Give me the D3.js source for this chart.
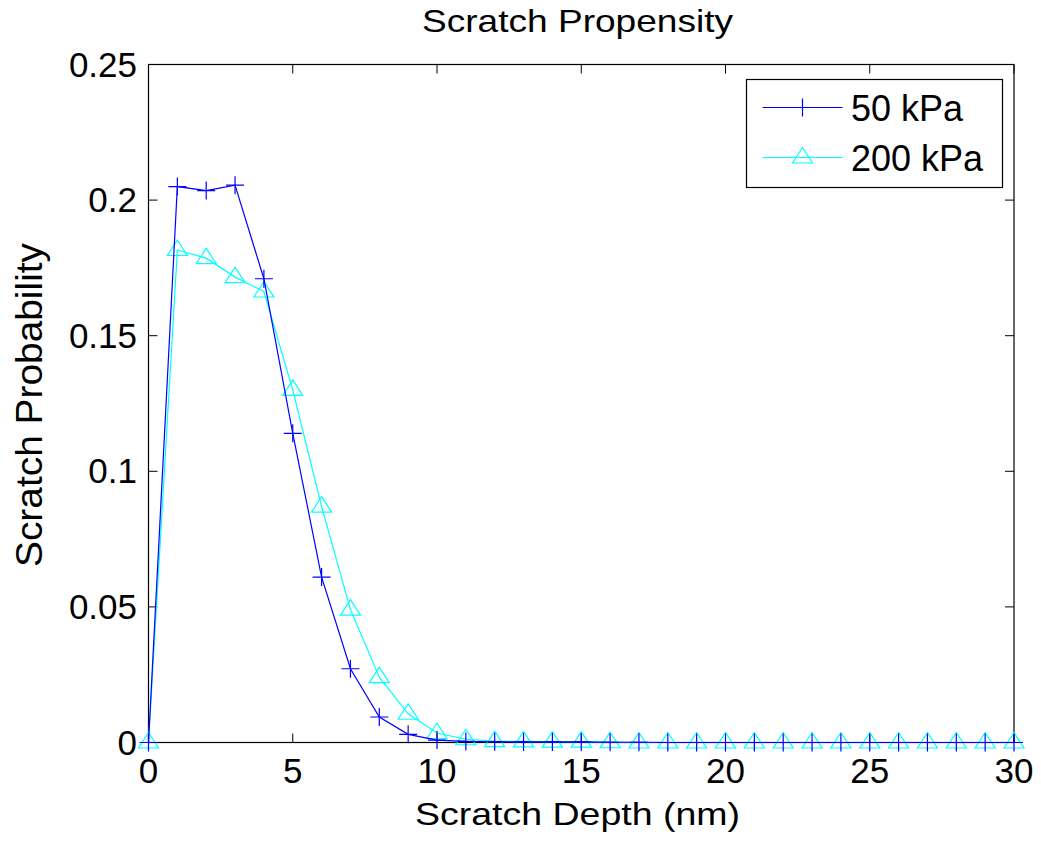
<!DOCTYPE html>
<html>
<head>
<meta charset="utf-8">
<script src="https://cdn.jsdelivr.net/npm/d3@7"></script>
<style>
  html, body { margin: 0; padding: 0; background: #fff; }
  svg { display: block; }
  text { font-family: Arial, "Liberation Sans", Helvetica, sans-serif; fill: #000; }
</style>
</head>
<body>
<svg id="chart" width="1041" height="842"></svg>
<script>
// ---- data ----
const depths = d3.range(0, 31); // 0..30 nm
const series50 = [0, 0.205, 0.2035, 0.2055, 0.171, 0.114, 0.061, 0.0272, 0.0094, 0.003, 0.0009,
  0.0004, 0.0003, 0.0002, 0.0002, 0.0002, 0.0001, 0.0001, 0, 0, 0,
  0, 0, 0, 0, 0, 0, 0, 0, 0, 0];
const series200 = [0, 0.1816, 0.1786, 0.1716, 0.1663, 0.130, 0.087, 0.049, 0.0241, 0.0106, 0.0035,
  0.0012, 0.0005, 0.0004, 0.0003, 0.0003, 0.0001, 0, 0, 0, 0,
  0, 0, 0, 0, 0, 0, 0, 0, 0, 0];
const xTicks = [0, 5, 10, 15, 20, 25, 30];
const yTicks = [0, 0.05, 0.1, 0.15, 0.2, 0.25];
const yTickLabels = ["0", "0.05", "0.1", "0.15", "0.2", "0.25"];
const seriesNames = ["50 kPa", "200 kPa"];
const titleText = "Scratch Propensity";
const xLabelText = "Scratch Depth (nm)";
const yLabelText = "Scratch Probability";

// ---- layout ----
const svg = d3.select("#chart");
const L = 148.5, R = 1014, T = 64.5, B = 742.5;
const x = d3.scaleLinear().domain([0, 30]).range([L, R]);
const y = d3.scaleLinear().domain([0, 0.25]).range([B, T]);
const tickLen = 9;

svg.append("rect").attr("width", 1041).attr("height", 842).attr("fill", "#fff");

// axes box
const g = svg.append("g");
g.append("rect").attr("x", L).attr("y", T).attr("width", R - L).attr("height", B - T)
  .attr("fill", "none").attr("stroke", "#000").attr("stroke-width", 1.2);

// ticks (inward, on all four sides)
xTicks.forEach(t => {
  const px = x(t);
  g.append("line").attr("x1", px).attr("x2", px).attr("y1", B).attr("y2", B - tickLen).attr("stroke", "#000");
  g.append("line").attr("x1", px).attr("x2", px).attr("y1", T).attr("y2", T + tickLen).attr("stroke", "#000");
  g.append("text").attr("x", px).attr("y", 783).attr("text-anchor", "middle")
    .attr("font-size", 35).text(t);
});
yTicks.forEach((t, i) => {
  const py = y(t);
  g.append("line").attr("x1", L).attr("x2", L + tickLen).attr("y1", py).attr("y2", py).attr("stroke", "#000");
  g.append("line").attr("x1", R).attr("x2", R - tickLen).attr("y1", py).attr("y2", py).attr("stroke", "#000");
  g.append("text").attr("x", 137).attr("y", py + 12).attr("text-anchor", "end")
    .attr("font-size", 35).text(yTickLabels[i]);
});

// series
const line = d3.line().x((d, i) => x(depths[i])).y(d => y(d));
const triPath = "M0,-10 L10,5.5 L-10,5.5 Z";
const plusPath = "M-9,0 L9,0 M0,-9 L0,9";

const plotG = svg.append("g");
// 200 kPa (cyan)
plotG.append("path").datum(series200).attr("d", line).attr("fill", "none")
  .attr("stroke", "#00ffff").attr("stroke-width", 1.2);
plotG.selectAll(".tri").data(series200).enter().append("path")
  .attr("d", triPath).attr("transform", (d, i) => `translate(${x(depths[i])},${y(d)})`)
  .attr("fill", "none").attr("stroke", "#00ffff").attr("stroke-width", 1.2);
// 50 kPa (blue)
plotG.append("path").datum(series50).attr("d", line).attr("fill", "none")
  .attr("stroke", "#0000ff").attr("stroke-width", 1.2);
plotG.selectAll(".plus").data(series50).enter().append("path")
  .attr("d", plusPath).attr("transform", (d, i) => `translate(${x(depths[i])},${y(d)})`)
  .attr("fill", "none").attr("stroke", "#0000ff").attr("stroke-width", 1.2);

// legend
const lg = svg.append("g");
lg.append("rect").attr("x", 746.5).attr("y", 79.5).attr("width", 256).attr("height", 108)
  .attr("fill", "#fff").attr("stroke", "#000").attr("stroke-width", 1.2);
const legendRows = [
  { name: seriesNames[0], color: "#0000ff", marker: plusPath, cy: 107.5 },
  { name: seriesNames[1], color: "#00ffff", marker: triPath, cy: 157.5 }
];
legendRows.forEach(r => {
  lg.append("line").attr("x1", 762.5).attr("x2", 842.5).attr("y1", r.cy).attr("y2", r.cy)
    .attr("stroke", r.color).attr("stroke-width", 1.2);
  lg.append("path").attr("d", r.marker).attr("transform", `translate(802.5,${r.cy})`)
    .attr("fill", "none").attr("stroke", r.color).attr("stroke-width", 1.2);
  lg.append("text").attr("x", 851).attr("y", r.cy + 13).attr("font-size", 36).text(r.name);
});

// title & labels
svg.append("text").attr("x", 422).attr("y", 32).attr("font-size", 32)
  .attr("textLength", 311).attr("lengthAdjust", "spacingAndGlyphs").text(titleText);
svg.append("text").attr("x", 415).attr("y", 825).attr("font-size", 32)
  .attr("textLength", 325).attr("lengthAdjust", "spacingAndGlyphs").text(xLabelText);
svg.append("text").attr("transform", "translate(42,567) rotate(-90)").attr("font-size", 36)
  .attr("textLength", 324).attr("lengthAdjust", "spacingAndGlyphs").text(yLabelText);
</script>
</body>
</html>
